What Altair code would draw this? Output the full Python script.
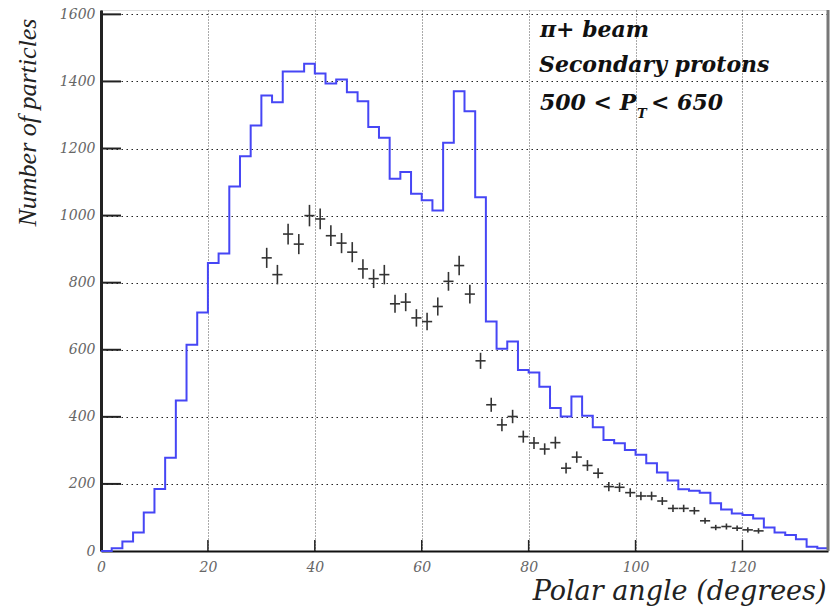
import altair as alt
import pandas as pd

# ---------------- data ----------------
# simulated histogram: 2-degree bins from 0 to 136 degrees
bin_lo = list(range(0, 136, 2))
hist_counts = [0, 8, 28, 55, 115, 185, 278, 449, 615, 711,
               859, 887, 1087, 1177, 1269, 1358, 1338, 1430, 1430, 1453,
               1424, 1394, 1406, 1368, 1341, 1264, 1232, 1110, 1130, 1065,
               1046, 1015, 1217, 1371, 1311, 1055, 684, 603, 625, 540,
               532, 490, 426, 401, 461, 403, 369, 331, 321, 301,
               287, 262, 234, 210, 184, 180, 174, 142, 124, 112,
               107, 97, 70, 55, 48, 35, 13, 8]

# measured data points (bin centres)
pt_angle = list(range(31, 124, 2))
pt_count = [874, 824, 945, 915, 1000, 990, 940, 918, 891, 841,
            812, 824, 737, 742, 695, 684, 729, 804, 851, 766,
            567, 436, 376, 401, 341, 322, 304, 323, 247, 280,
            255, 232, 192, 190, 174, 164, 164, 149, 127, 127,
            120, 90, 70, 73, 68, 63, 60]
pt_err = [30, 29, 31, 30, 32, 31, 31, 30, 30, 29,
          28, 29, 27, 27, 26, 26, 27, 28, 29, 28,
          24, 21, 19, 20, 18, 18, 17, 18, 16, 17,
          16, 15, 14, 14, 13, 13, 13, 12, 11, 11,
          11, 9, 8, 9, 8, 8, 8]

x_ticks = [0, 20, 40, 60, 80, 100, 120]
y_ticks = [0, 200, 400, 600, 800, 1000, 1200, 1400, 1600]
notes = ["\u03c0+ beam", "Secondary protons", "500 < P", "T", "< 650"]

# ---------------- layout ----------------
W, H = 727, 541
X_MAX, Y_MAX = 136, 1613

hist_df = pd.DataFrame({"angle": bin_lo + [X_MAX], "count": hist_counts + [hist_counts[-1]]})
pts_df = pd.DataFrame({"angle": pt_angle, "count": pt_count, "err": pt_err})

xscale = alt.Scale(domain=[0, X_MAX], nice=False, zero=False)
yscale = alt.Scale(domain=[0, Y_MAX], nice=False)

x_axis = alt.Axis(values=x_ticks, format="d", grid=True, gridDash=[1, 2], gridColor="#555", gridWidth=1,
                  ticks=False, domainColor="#111", domainWidth=2,
                  labelFont="DejaVu Serif", labelFontStyle="italic", labelFontSize=14,
                  labelColor="#666", labelPadding=9, labelFlush=False, labelOverlap=False,
                  title="Polar angle (degrees)", titleFont="DejaVu Serif", titleFontStyle="italic",
                  titleFontWeight="normal", titleFontSize=27, titleColor="#222",
                  titleX=W - 2, titleY=48, titleAlign="right", titleBaseline="alphabetic")
y_axis = alt.Axis(values=y_ticks, format="d", grid=True, gridDash=[1.5, 3.5], gridColor="#222", gridWidth=1,
                  ticks=False, domainColor="#222", domainWidth=3,
                  labelFont="DejaVu Serif", labelFontStyle="italic", labelFontSize=14,
                  labelColor="#666", labelPadding=6, labelOverlap=False,
                  title="Number of particles", titleFont="Liberation Serif", titleFontStyle="italic",
                  titleFontWeight="normal", titleFontSize=26, titleColor="#222",
                  titleAngle=270, titleX=-74, titleY=112, titleAlign="center", titleBaseline="middle")


def X(field):
    return alt.X(field, scale=xscale, axis=x_axis)


def Y(field):
    return alt.Y(field, scale=yscale, axis=y_axis)


hist = alt.Chart(hist_df).mark_line(interpolate="step-after", color="#4646f5", strokeWidth=2).encode(
    x=X("angle:Q"), y=Y("count:Q"))

base_pts = alt.Chart(pts_df).transform_calculate(
    lo="datum.count - datum.err", hi="datum.count + datum.err",
    xl="datum.angle - 0.95", xr="datum.angle + 0.95")

vbars = base_pts.mark_rule(color="#333", strokeWidth=1.6).encode(
    x=X("angle:Q"), y=Y("lo:Q"), y2="hi:Q")
hbars = base_pts.mark_rule(color="#333", strokeWidth=1.6).encode(
    x=X("xl:Q"), x2="xr:Q", y=Y("count:Q"))

ytick_df = pd.DataFrame({"v": y_ticks[1:]})
xtick_df = pd.DataFrame({"v": x_ticks[1:]})
yticks = alt.Chart(ytick_df).mark_rule(color="#222", strokeWidth=2).encode(
    y=Y("v:Q"), x=alt.value(0), x2=alt.value(20))
xticks = alt.Chart(xtick_df).mark_rule(color="#222", strokeWidth=1.5).encode(
    x=X("v:Q"), y=alt.value(H), y2=alt.value(H - 11))

right_border = alt.Chart(pd.DataFrame({"v": [0]})).mark_rule(color="#777", strokeWidth=3).encode(
    x=alt.value(W), y=alt.value(0), y2=alt.value(H))


def note(i, px, py, size):
    return alt.Chart(pd.DataFrame({"label": [notes[i]]})).mark_text(
        font="DejaVu Serif", fontStyle="italic", fontWeight="bold", fontSize=size,
        align="left", baseline="alphabetic", color="#111").encode(
        text="label:N", x=alt.value(px), y=alt.value(py))


notes_layers = [note(0, 439, 27, 22), note(1, 438, 62, 22), note(2, 439, 100, 22),
                note(3, 536, 108, 13), note(4, 550, 100, 22)]

chart = alt.layer(hist, vbars, hbars, yticks, xticks, right_border, *notes_layers).properties(
    width=W, height=H,
    autosize=alt.AutoSizeParams(type="none"),
    padding={"left": 101, "top": 10, "right": 12, "bottom": 56},
).configure_view(stroke="#c8c8c8", strokeWidth=1.5).configure(background="white")

chart.save("out.html", embed_options={"renderer": "svg", "actions": False})
